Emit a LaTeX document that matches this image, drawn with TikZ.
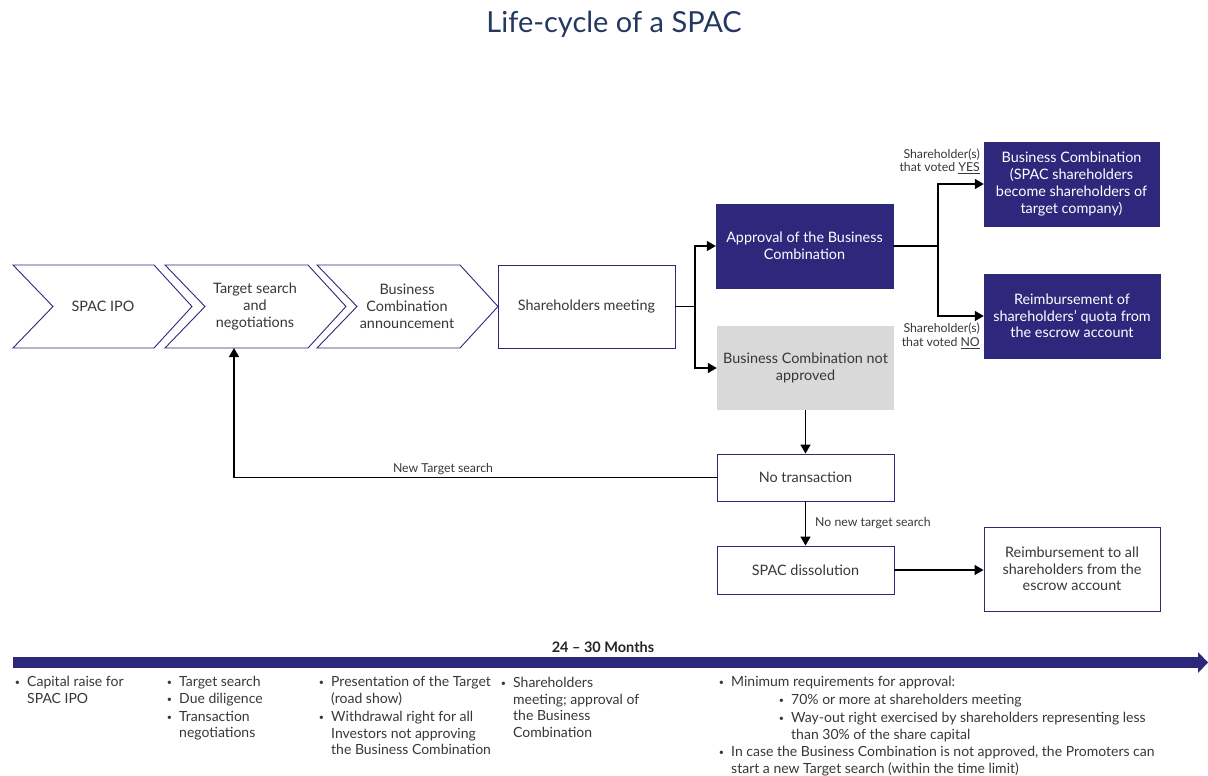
\documentclass[tikz,border=0pt]{standalone}
\usepackage{fontspec}
\setmainfont{Lato}
\usetikzlibrary{arrows.meta}
\definecolor{navy}{RGB}{46,40,125}
\definecolor{titleblue}{RGB}{36,56,96}
\definecolor{txt}{RGB}{55,55,55}
\definecolor{lgray}{RGB}{217,217,217}
\newcommand{\bodyfont}{\fontsize{14.4}{16.7}\selectfont}
\newcommand{\listfont}{\fontsize{14}{16.5}\selectfont}
\newcommand{\smallfont}{\fontsize{12.3}{13.5}\selectfont}
\newcommand{\bul}{\makebox[0pt][r]{\fontsize{9}{9}\selectfont\raisebox{1pt}{•}\hspace{7pt}}}
\begin{document}
\begin{tikzpicture}[x=1pt,y=-1pt,
  chev/.style={draw=navy, line width=0.9pt, fill=white},
  ctext/.style={align=center, text=txt, font=\bodyfont, inner sep=0pt},
  box/.style={draw=navy, line width=0.9pt, align=center, text=txt, font=\bodyfont, inner sep=0pt},
  dbox/.style={fill=navy, draw=navy, align=center, text=white, font=\bodyfont, inner sep=0pt},
  gbox/.style={fill=lgray, align=center, text=txt, font=\bodyfont, inner sep=0pt},
  conn/.style={line width=1.5pt, black},
  arr/.style={conn, -{Triangle[length=9pt,width=10pt]}},
  lbl/.style={text=txt, font=\smallfont, inner sep=0pt},
  item/.style={anchor=north west, align=left, text=txt, font=\listfont, inner sep=0pt}
]
\useasboundingbox (0,0) rectangle (1208,776);

% title
\node[text=titleblue, font=\fontsize{29}{33}\selectfont] (title) at (614,24) {Life-cycle of a SPAC};

% chevrons
\draw[chev] (13,265) -- (154,265) -- (192,306.5) -- (154,348) -- (13,348) -- (53,306.5) -- cycle;
\draw[chev] (165,265) -- (308,265) -- (346,306.5) -- (308,348) -- (165,348) -- (205,306.5) -- cycle;
\draw[chev] (317,265) -- (460,265) -- (498,306.5) -- (460,348) -- (317,348) -- (357,306.5) -- cycle;
\node[ctext] (c1) at (103,306.5) {SPAC IPO};
\node[ctext] (c2) at (255,306.5) {Target search\\and\\negotiations};
\node[ctext] (c3) at (407,306.5) {Business\\Combination\\announcement};
\coordinate (c2b) at (234,348);

% boxes
\node[box, minimum width=177pt, minimum height=83pt] (sm) at (586.5,306.5) {Shareholders meeting};
\node[dbox, minimum width=177pt, minimum height=84pt] (ap) at (804.5,246) {Approval of the Business\\Combination};
\node[gbox, minimum width=177pt, minimum height=84pt] (na) at (805.5,368) {Business Combination not\\approved};
\node[dbox, minimum width=175pt, minimum height=84pt] (bc) at (1071.5,184) {Business Combination\\(SPAC shareholders\\become shareholders of\\target company)};
\node[dbox, minimum width=176pt, minimum height=84pt] (rb) at (1072,316) {Reimbursement of\\shareholders’ quota from\\the escrow account};
\node[box, minimum width=177pt, minimum height=47pt] (nt) at (805.5,477.5) {No transaction};
\node[box, minimum width=177pt, minimum height=48pt] (sd) at (805.5,570) {SPAC dissolution};
\node[box, minimum width=176pt, minimum height=84pt] (ra) at (1072,569) {Reimbursement to all\\shareholders from the\\escrow account};

% connectors
\coordinate (j1) at (695,306.5);
\draw[conn] (sm.east) -- (j1);
\draw[arr] (j1) |- (ap.west);
\draw[arr] (j1) |- (na.west);
\coordinate (j2) at (938,246);
\draw[conn] (ap.east) -- (j2);
\draw[arr] (j2) |- (bc.west);
\draw[arr] (j2) |- (rb.west);
\node[lbl, anchor=south east, align=right] (yes) at (980,174) {Shareholder(s)\\that voted \underline{YES}};
\node[lbl, anchor=north east, align=right] (no) at (980,323) {Shareholder(s)\\that voted \underline{NO}};

\draw[arr] (na.south) -- (nt.north);
\draw[arr] (nt.west) -| (c2b);
\node[lbl] (nts) at (443,469) {New Target search};
\draw[arr] (nt.south) -- (sd.north);
\node[lbl, anchor=west] (nnts) at (815,523) {No new target search};
\draw[arr] (sd.east) -- (sd.east -| ra.west);

% timeline
\node[font=\fontsize{14.5}{16}\selectfont\bfseries, text=black!85] (months) at (603,647) {24 – 30 Months};
\fill[navy] (13,657) rectangle (1199,668);
\fill[navy] (1198,652) -- (1208,662.5) -- (1198,673) -- cycle;

% bullet texts
\node[item] (i1) at (27,676) {\bul Capital raise for\\SPAC IPO};
\node[item] (i2a) at (179,676) {\bul Target search};
\node[item] (i2b) at (179,693) {\bul Due diligence};
\node[item] (i2c) at (179,711) {\bul Transaction\\negotiations};
\node[item] (i3a) at (331,676) {\bul Presentation of the Target\\(road show)};
\node[item] (i3b) at (331,711) {\bul Withdrawal right for all\\Investors not approving\\the Business Combination};
\node[item] (i4) at (513,677) {\bul Shareholders\\meeting; approval of\\the Business\\Combination};
\node[item] (i5a) at (731,676) {\bul Minimum requirements for approval:};
\node[item] (i5b) at (791,694) {\bul 70\% or more at shareholders meeting};
\node[item] (i5c) at (791,712) {\bul Way-out right exercised by shareholders representing less\\than 30\% of the share capital};
\node[item] (i5d) at (731,746) {\bul In case the Business Combination is not approved, the Promoters can\\start a new Target search (within the time limit)};
\end{tikzpicture}
\end{document}
